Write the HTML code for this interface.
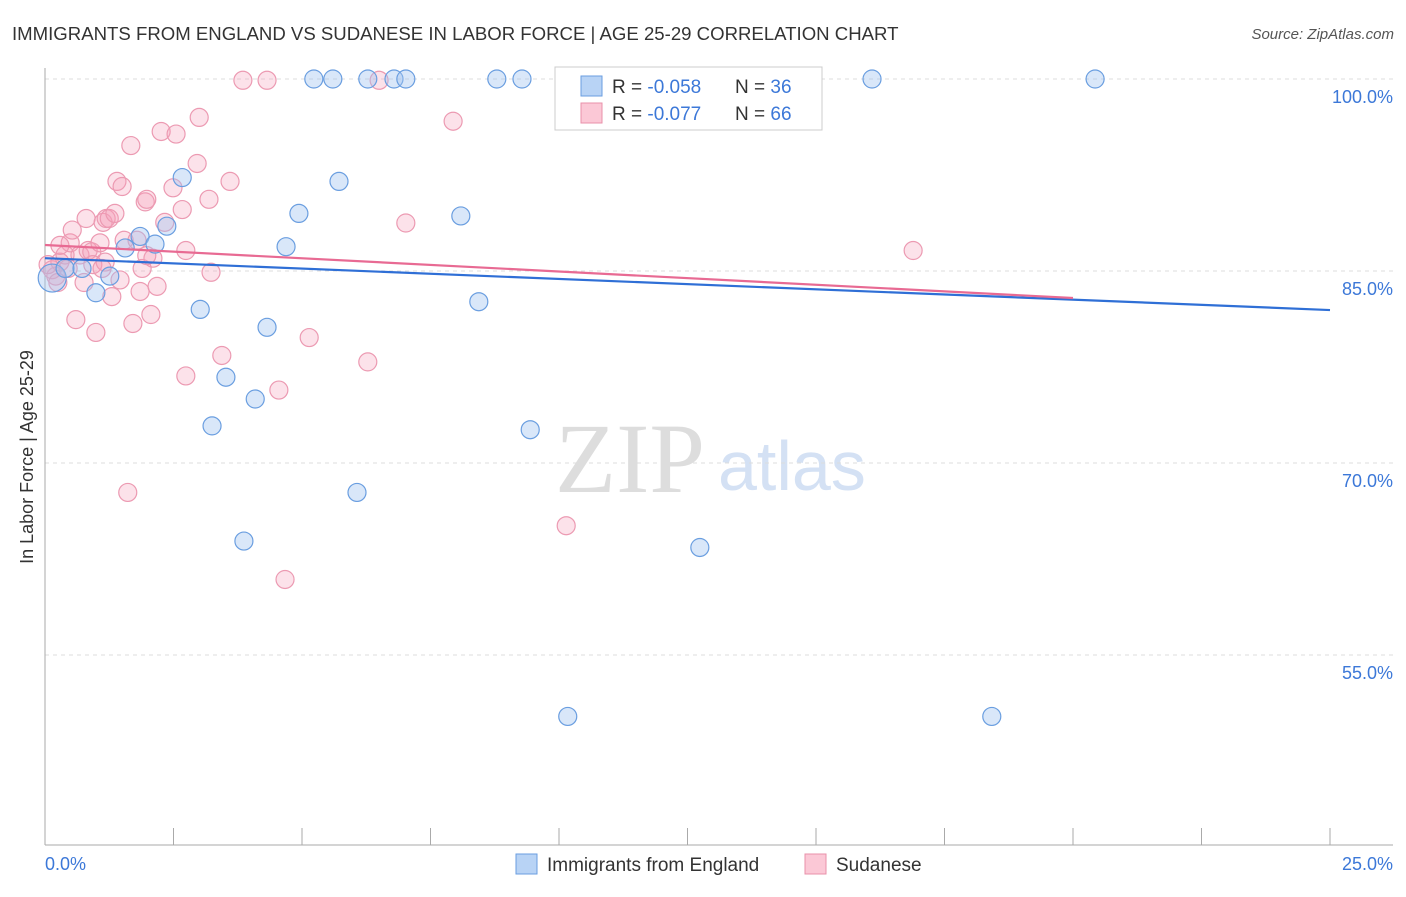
<!DOCTYPE html>
<html><head><meta charset="utf-8"><style>
body{margin:0;background:#fff;font-family:"Liberation Sans",sans-serif}
</style></head><body>
<svg width="1406" height="892" xmlns="http://www.w3.org/2000/svg">
<text x="12" y="40" font-size="18.6" fill="#333">IMMIGRANTS FROM ENGLAND VS SUDANESE IN LABOR FORCE | AGE 25-29 CORRELATION CHART</text>
<text x="1394" y="39" font-size="15" fill="#555" font-style="italic" text-anchor="end">Source: ZipAtlas.com</text>
<text x="33" y="457" font-size="18" fill="#333" transform="rotate(-90 33 457)" text-anchor="middle">In Labor Force | Age 25-29</text>
<text x="555" y="492" font-size="100" fill="#ddd" font-family="Liberation Serif,serif">ZIP</text>
<text x="718" y="490" font-size="70" fill="#d4e1f4">atlas</text>
<g id="grid"></g><g id="axes"></g><g id="pts"></g><g id="lines"></g>
<g>
<rect x="555" y="67" width="267" height="63" fill="#fff" stroke="#ccc"/>
<rect x="581" y="76" width="21" height="20" fill="#b8d3f5" stroke="#6a9ee0"/>
<rect x="581" y="103" width="21" height="20" fill="#fbc8d6" stroke="#e890aa"/>
<text x="612" y="93" font-size="19" fill="#333">R = <tspan fill="#3c78d8">-0.058</tspan></text>
<text x="735" y="93" font-size="19" fill="#333">N = <tspan fill="#3c78d8">36</tspan></text>
<text x="612" y="120" font-size="19" fill="#333">R = <tspan fill="#3c78d8">-0.077</tspan></text>
<text x="735" y="120" font-size="19" fill="#333">N = <tspan fill="#3c78d8">66</tspan></text>
</g>
<text x="45" y="870" font-size="18" fill="#3c78d8">0.0%</text>
<text x="1393" y="870" font-size="18" fill="#3c78d8" text-anchor="end">25.0%</text>
<g>
<rect x="516" y="854" width="21" height="20" fill="#b8d3f5" stroke="#6a9ee0"/>
<text x="547" y="871" font-size="19" fill="#333">Immigrants from England</text>
<rect x="805" y="854" width="21" height="20" fill="#fbc8d6" stroke="#e890aa"/>
<text x="836" y="871" font-size="19" fill="#333">Sudanese</text>
</g>
</svg>
<script>
const yTicks=[100,85,70,55];
const yTickLabels=["100.0%","85.0%","70.0%","55.0%"];
const blueX=[0.14,0.39,0.72,0.99,1.26,1.56,1.85,2.14,2.37,2.67,3.02,3.25,3.52,3.87,4.09,4.32,4.69,4.94,5.23,5.60,5.72,6.07,6.28,6.79,7.02,8.09,8.44,8.79,9.28,9.44,10.17,11.54,12.74,16.09,18.42,20.43];
const blueY=[84.45,85.2,85.2,83.3,84.6,86.8,87.7,87.1,88.5,92.3,82.0,72.9,76.7,63.9,75.0,80.6,86.9,89.5,100,100,92.0,67.7,100,100,100,89.3,82.6,100,100,72.6,50.2,100,63.4,100,50.2,100];
const pinkX=[.14,.21,.29,.39,.49,.53,.60,.68,.80,.84,.91,.99,1.07,1.13,1.19,1.25,1.30,1.36,1.40,1.46,1.50,1.54,1.61,1.67,1.71,1.85,1.89,1.95,1.98,2.06,2.10,2.18,2.26,2.33,2.49,2.55,2.67,2.74,2.74,2.96,3.00,3.19,3.23,3.44,3.60,3.85,4.32,4.55,4.67,5.14,6.28,6.50,7.02,7.94,10.14,16.89,.29,.45,.76,.93,1.17,1.79,1.98,.25,.06,1.11];
const pinkY=[85.1,84.6,85.7,86.25,87.2,88.2,81.2,86.25,89.1,86.6,86.5,80.2,87.2,88.8,89.1,89.1,83.0,89.5,92.0,84.3,91.6,87.4,67.7,94.8,80.9,83.4,85.2,90.4,90.6,81.6,86.0,83.8,95.9,88.8,91.5,95.7,89.8,76.8,86.6,93.4,97.0,90.6,84.9,78.4,92.0,99.9,99.9,75.7,60.9,79.8,77.9,99.9,88.75,96.7,65.1,86.6,87.0,85.2,84.1,85.5,85.7,87.4,86.2,84.1,85.5,85.2];
const blueTrend=[[0,86.0],[25,81.95]];
const pinkTrend=[[0,87.03],[20,82.89]];
const NS='http://www.w3.org/2000/svg';
const X=v=>45+v/25*1285, Y=v=>79+(100-v)*12.8;
function mk(t,a,p){const e=document.createElementNS(NS,t);for(const k in a)e.setAttribute(k,a[k]);document.getElementById(p).appendChild(e);return e;}
yTicks.forEach((t,i)=>{
 const l=mk('line',{x1:45,x2:1393,y1:Y(t),y2:Y(t),stroke:'#ddd','stroke-dasharray':'4,4'},'grid');
 
 
 const tx=mk('text',{x:1393,y:Y(t)+24,'font-size':18,fill:'#3c78d8','text-anchor':'end'},'grid');
 tx.textContent=yTickLabels[i];
 
 
});
const ax=mk('line',{x1:45,x2:45,y1:68,y2:845,stroke:'#aaa'},'axes');


const bx=mk('line',{x1:45,x2:1393,y1:845,y2:845,stroke:'#aaa'},'axes');


for(let i=0;i<=10;i++){const t=mk('line',{x1:X(i*2.5),x2:X(i*2.5),y1:828,y2:845,stroke:'#aaa'},'axes');
 
 }
pinkX.forEach((x,i)=>{const c=mk('circle',{cx:X(x),cy:Y(pinkY[i]),r:9,fill:'rgba(245,160,185,0.3)',stroke:'#ec9ab2','stroke-width':1.2},'pts');
 
 });
blueX.forEach((x,i)=>{const c=mk('circle',{cx:X(x),cy:Y(blueY[i]),r:i==0?14:9,fill:'rgba(160,195,240,0.4)',stroke:'#6a9ee0','stroke-width':1.2},'pts');
 
 });
const b=mk('line',{x1:X(blueTrend[0][0]),y1:Y(blueTrend[0][1]),x2:X(blueTrend[1][0]),y2:Y(blueTrend[1][1]),stroke:'#2f6fd6','stroke-width':2.2},'lines');


const p=mk('line',{x1:X(pinkTrend[0][0]),y1:Y(pinkTrend[0][1]),x2:X(pinkTrend[1][0]),y2:Y(pinkTrend[1][1]),stroke:'#e86a93','stroke-width':2.2},'lines');


</script>
</body></html>
